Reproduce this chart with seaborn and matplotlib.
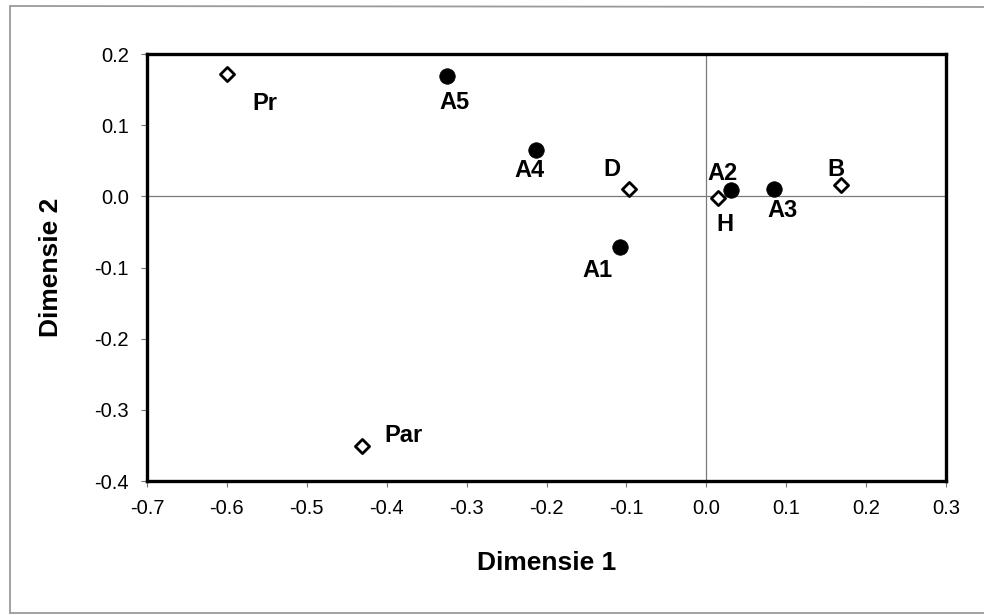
import matplotlib
matplotlib.use("Agg")
import matplotlib.pyplot as plt
from matplotlib.lines import Line2D
import pandas as pd
import seaborn as sns

# Category scores (filled circles)
a_labels = ["A1", "A2", "A3", "A4", "A5"]
a_dim1 = [-0.108, 0.031, 0.085, -0.213, -0.325]
a_dim2 = [-0.071, 0.009, 0.011, 0.065, 0.169]

# Variable scores (open diamonds)
v_labels = ["Pr", "Par", "D", "H", "B"]
v_dim1 = [-0.600, -0.431, -0.097, 0.015, 0.169]
v_dim2 = [0.172, -0.351, 0.010, -0.002, 0.016]

x_ticks = [-0.7, -0.6, -0.5, -0.4, -0.3, -0.2, -0.1, 0.0, 0.1, 0.2, 0.3]
y_ticks = [-0.4, -0.3, -0.2, -0.1, 0.0, 0.1, 0.2]

# label offsets in points (dx, dy)
a_offsets = {"A1": (-16, -17), "A2": (-6, 12), "A3": (6, -16), "A4": (-5, -15), "A5": (6, -19)}
v_offsets = {"Pr": (27, -21), "Par": (30, 8), "D": (-12, 14), "H": (5, -19), "B": (-4, 11)}

sns.set_style("ticks")
plt.rcParams["font.family"] = ["Liberation Sans", "DejaVu Sans"]
plt.rcParams["text.color"] = "black"
plt.rcParams["axes.labelcolor"] = "black"
plt.rcParams["xtick.labelcolor"] = "black"
plt.rcParams["ytick.labelcolor"] = "black"

fig = plt.figure(figsize=(9.84, 6.15), dpi=100)
W, H = 984, 615
ax = fig.add_axes([147 / W, 1 - 481 / H, (946 - 147) / W, (481 - 54) / H])

df_a = pd.DataFrame({"dim1": a_dim1, "dim2": a_dim2, "label": a_labels})
df_v = pd.DataFrame({"dim1": v_dim1, "dim2": v_dim2, "label": v_labels})

ax.axhline(0, color="#7a7a7a", lw=0.9, zorder=1)
ax.axvline(0, color="#7a7a7a", lw=0.9, zorder=1)

sns.scatterplot(data=df_a, x="dim1", y="dim2", ax=ax, marker="o", s=125,
                color="black", edgecolor="black", linewidth=0.5, zorder=3, legend=False)
sns.scatterplot(data=df_v, x="dim1", y="dim2", ax=ax, marker="D", s=52,
                facecolor="white", edgecolor="black", linewidth=2.0, zorder=3, legend=False)

for df, offs in ((df_a, a_offsets), (df_v, v_offsets)):
    for _, r in df.iterrows():
        dx, dy = offs[r["label"]]
        ax.annotate(r["label"], (r["dim1"], r["dim2"]), xytext=(dx, dy),
                    textcoords="offset points", ha="center", va="center",
                    fontsize=17, fontweight="bold", color="black", zorder=4)

ax.set_xlim(-0.7, 0.3)
ax.set_ylim(-0.4, 0.2)
ax.set_xticks(x_ticks)
ax.set_yticks(y_ticks)
ax.set_xticklabels([f"{t:.1f}" for t in x_ticks])
ax.set_yticklabels([f"{t:.1f}" for t in y_ticks])
ax.tick_params(axis="both", direction="out", length=4, width=0.8, color="#777777",
               labelsize=14.5, pad=9, labelcolor="black")

for sp in ax.spines.values():
    sp.set_visible(True)
    sp.set_linewidth(2.4)
    sp.set_color("black")

ax.set_xlabel("Dimensie 1", fontsize=19, fontweight="bold", color="black")
ax.set_ylabel("Dimensie 2", fontsize=19, fontweight="bold", color="black")
ax.xaxis.set_label_coords(0.5, -0.165)
ax.yaxis.set_label_coords(-0.105, 0.5)
ax.xaxis.label.set_va("top")

# outer chart frame
frame_kw = dict(color="#9a9a9a", lw=1.3, transform=fig.transFigure, zorder=0)
fig.add_artist(Line2D([10 / W, 1.0], [1 - 6 / H, 1 - 7 / H], **frame_kw))
fig.add_artist(Line2D([10 / W, 10 / W], [1 - 6 / H, 1 - 613 / H], **frame_kw))
fig.add_artist(Line2D([10 / W, 1.0], [1 - 613 / H, 1 - 613 / H], **frame_kw))

fig.savefig("out.png", dpi=100)
